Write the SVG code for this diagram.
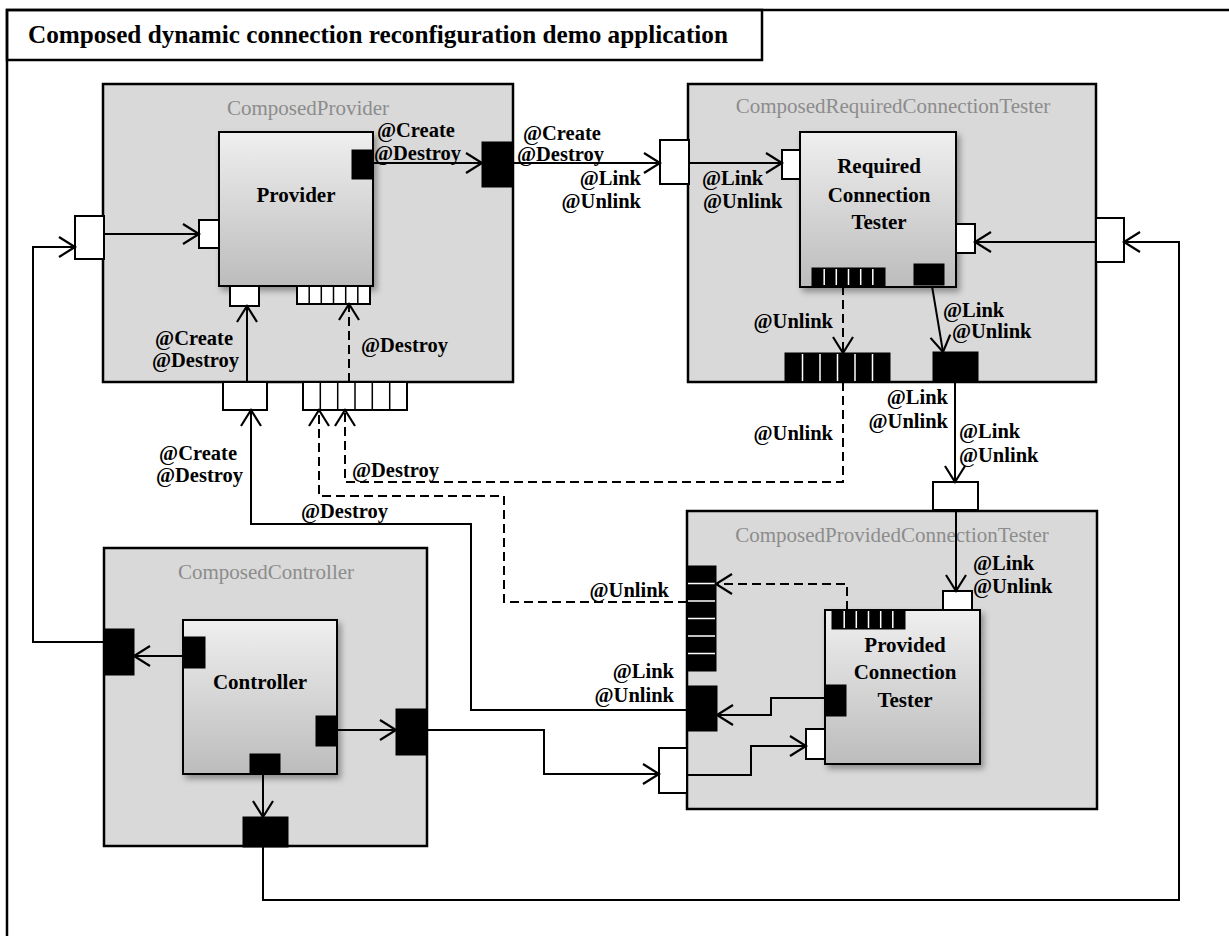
<svg xmlns="http://www.w3.org/2000/svg" width="1229" height="936" viewBox="0 0 1229 936">
  <defs>
    <linearGradient id="innerFill" x1="0" y1="0" x2="0" y2="1">
      <stop offset="0" stop-color="#efefef"/>
      <stop offset="1" stop-color="#bcbcbc"/>
    </linearGradient>
    <filter id="shadow" x="-10%" y="-10%" width="130%" height="130%">
      <feDropShadow dx="3" dy="4" stdDeviation="3" flood-color="#000" flood-opacity="0.35"/>
    </filter>
    <marker id="arr" markerUnits="userSpaceOnUse" markerWidth="22" markerHeight="26" viewBox="0 0 22 26" refX="18" refY="12" orient="auto">
      <path d="M2,2 L18,12 L2,22" fill="none" stroke="#000" stroke-width="2.2"/>
    </marker>
    <style>
      .frame { fill: none; stroke: #000; stroke-width: 2.5; }
      .comp { fill: #d9d9d9; stroke: #000; stroke-width: 2.5; }
      .inner { fill: url(#innerFill); stroke: #000; stroke-width: 2; filter: url(#shadow); }
      .pw { fill: #fff; stroke: #000; stroke-width: 2; }
      .pb { fill: #000; stroke: #000; stroke-width: 1; }
      .cellw { stroke: #000; stroke-width: 1.5; }
      .cellb { stroke: #fff; stroke-width: 1.5; }
      .ctitle { font-family: "Liberation Serif", "Times New Roman", serif; font-size: 21px; fill: #8c8c8c; text-anchor: middle; }
      .ntitle { font-family: "Liberation Serif", "Times New Roman", serif; font-size: 21px; font-weight: bold; fill: #000; text-anchor: middle; }
      .lbl { font-family: "Liberation Serif", "Times New Roman", serif; font-size: 20.5px; font-weight: bold; fill: #000; }
      .r { text-anchor: end; }
      .title { font-family: "Liberation Serif", "Times New Roman", serif; font-size: 25.2px; font-weight: bold; fill: #000; }
      .conn { fill: none; stroke: #000; stroke-width: 2; marker-end: url(#arr); }
      .dash { stroke-dasharray: 9 5; }
    </style>
  </defs>

  <rect width="1229" height="936" fill="#fff"/>

  <!-- outer application frame and title tab -->
  <g id="application">
    <rect class="frame" x="7" y="10" width="1260" height="960"/>
    <rect class="frame" x="7" y="10" width="755" height="50"/>
    <text class="title" x="28" y="43">Composed dynamic connection reconfiguration demo application</text>
  </g>

  <!-- ComposedProvider -->
  <g id="composed-provider">
    <rect class="comp" x="103" y="84" width="410" height="298"/>
    <text class="ctitle" x="308" y="115">ComposedProvider</text>
    <rect class="pw" x="75" y="216" width="29" height="43"/>
    <rect class="pb" x="482" y="142" width="31" height="45"/>
    <rect class="pw" x="223" y="382" width="44" height="28"/>
    <rect class="pw" x="303" y="382" width="104" height="28"/>
    <path class="cellw" d="M320.3,382V410M337.7,382V410M355,382V410M372.3,382V410M389.7,382V410"/>
  </g>
  <g id="provider">
    <rect class="inner" x="219" y="132" width="154" height="154"/>
    <text class="ntitle" x="296" y="202">Provider</text>
    <rect class="pb" x="352" y="150" width="21" height="29"/>
    <rect class="pw" x="199" y="220" width="20" height="28"/>
    <rect class="pw" x="230" y="286" width="29" height="20"/>
    <rect class="pw" x="297" y="286" width="73" height="18"/>
    <path class="cellw" d="M309.2,286V304M321.3,286V304M333.5,286V304M345.7,286V304M357.8,286V304"/>
  </g>

  <!-- ComposedRequiredConnectionTester -->
  <g id="composed-required-tester">
    <rect class="comp" x="688" y="84" width="408" height="298"/>
    <text class="ctitle" x="893" y="113">ComposedRequiredConnectionTester</text>
    <rect class="pw" x="660" y="140" width="29" height="44"/>
    <rect class="pw" x="1096" y="218" width="28" height="44"/>
    <rect class="pb" x="785" y="353" width="105" height="29"/>
    <path class="cellb" d="M802.5,354V381M820,354V381M837.5,354V381M855,354V381M872.5,354V381"/>
    <rect class="pb" x="933" y="352" width="45" height="30"/>
  </g>
  <g id="required-tester">
    <rect class="inner" x="800" y="132" width="156" height="155"/>
    <text class="ntitle" x="879" y="173">Required</text>
    <text class="ntitle" x="879" y="202">Connection</text>
    <text class="ntitle" x="879" y="229">Tester</text>
    <rect class="pw" x="782" y="150" width="18" height="29"/>
    <rect class="pw" x="956" y="224" width="19" height="29"/>
    <rect class="pb" x="812" y="268" width="73" height="18"/>
    <path class="cellb" d="M824.2,269V285M836.3,269V285M848.5,269V285M860.7,269V285M872.8,269V285"/>
    <rect class="pb" x="914" y="264" width="30" height="21"/>
  </g>

  <!-- ComposedProvidedConnectionTester -->
  <g id="composed-provided-tester">
    <rect class="comp" x="687" y="511" width="410" height="298"/>
    <text class="ctitle" x="892" y="542">ComposedProvidedConnectionTester</text>
    <rect class="pw" x="933" y="482" width="45" height="28"/>
    <rect class="pb" x="687" y="566" width="29" height="105"/>
    <path class="cellb" d="M688,583.5H715M688,601H715M688,618.5H715M688,636H715M688,653.5H715"/>
    <rect class="pb" x="687" y="686" width="30" height="45"/>
    <rect class="pw" x="659" y="748" width="28" height="45"/>
  </g>
  <g id="provided-tester">
    <rect class="inner" x="825" y="610" width="155" height="154"/>
    <text class="ntitle" x="905" y="652">Provided</text>
    <text class="ntitle" x="905" y="679">Connection</text>
    <text class="ntitle" x="905" y="707">Tester</text>
    <rect class="pb" x="832" y="610" width="73" height="19"/>
    <path class="cellb" d="M844.2,611V628M856.3,611V628M868.5,611V628M880.7,611V628M892.8,611V628"/>
    <rect class="pw" x="943" y="591" width="29" height="19"/>
    <rect class="pb" x="825" y="685" width="21" height="31"/>
    <rect class="pw" x="806" y="729" width="19" height="30"/>
  </g>

  <!-- ComposedController -->
  <g id="composed-controller">
    <rect class="comp" x="104" y="548" width="323" height="298"/>
    <text class="ctitle" x="266" y="579">ComposedController</text>
    <rect class="pb" x="105" y="629" width="29" height="46"/>
    <rect class="pb" x="396" y="709" width="31" height="46"/>
    <rect class="pb" x="243" y="817" width="45" height="30"/>
  </g>
  <g id="controller">
    <rect class="inner" x="183" y="620" width="154" height="154"/>
    <text class="ntitle" x="260" y="689">Controller</text>
    <rect class="pb" x="183" y="637" width="22" height="31"/>
    <rect class="pb" x="316" y="716" width="21" height="30"/>
    <rect class="pb" x="250" y="754" width="30" height="20"/>
  </g>

  <!-- connectors -->
  <g id="connectors">
    <path class="conn" d="M105,642H33V247H75"/>
    <path class="conn" d="M104,234H199"/>
    <path class="conn" d="M373,163H482"/>
    <path class="conn" d="M513,163H660"/>
    <path class="conn" d="M689,163H782"/>
    <path class="conn" d="M1096,242H975"/>
    <path class="conn" d="M263,847V900H1179V242H1124"/>
    <path class="conn" d="M263,774V817"/>
    <path class="conn" d="M183,656H134"/>
    <path class="conn" d="M337,730H396"/>
    <path class="conn" d="M427,730H544V774H659"/>
    <path class="conn" d="M687,775H751V746H806"/>
    <path class="conn" d="M825,698H771V715H717"/>
    <path class="conn" d="M932,286L943,352"/>
    <path class="conn" d="M955,382V482"/>
    <path class="conn" d="M956,510V591"/>
    <path class="conn" d="M247,382V306"/>
    <path class="conn" d="M687,710H471V524H251V410"/>
    <path class="conn dash" d="M349,382V304"/>
    <path class="conn dash" d="M843,286V353"/>
    <path class="conn dash" d="M847,610V584H716"/>
    <path class="conn dash" d="M843,382V482H345V410"/>
    <path class="conn dash" d="M687,602H504V496H319V410"/>
  </g>

  <!-- connector labels -->
  <g id="labels">
    <text class="lbl" x="377" y="137">@Create</text>
    <text class="lbl" x="374" y="160">@Destroy</text>
    <text class="lbl" x="523" y="140">@Create</text>
    <text class="lbl" x="517" y="161">@Destroy</text>
    <text class="lbl r" x="641" y="185">@Link</text>
    <text class="lbl r" x="641" y="208">@Unlink</text>
    <text class="lbl" x="702" y="185">@Link</text>
    <text class="lbl" x="703" y="208">@Unlink</text>
    <text class="lbl r" x="833" y="328">@Unlink</text>
    <text class="lbl" x="943" y="317">@Link</text>
    <text class="lbl" x="952" y="338">@Unlink</text>
    <text class="lbl r" x="233" y="345">@Create</text>
    <text class="lbl r" x="239" y="367">@Destroy</text>
    <text class="lbl" x="361" y="352">@Destroy</text>
    <text class="lbl r" x="237" y="460">@Create</text>
    <text class="lbl r" x="243" y="482">@Destroy</text>
    <text class="lbl" x="352" y="477">@Destroy</text>
    <text class="lbl" x="301" y="518">@Destroy</text>
    <text class="lbl r" x="833" y="440">@Unlink</text>
    <text class="lbl r" x="948" y="404">@Link</text>
    <text class="lbl r" x="948" y="428">@Unlink</text>
    <text class="lbl" x="959" y="438">@Link</text>
    <text class="lbl" x="959" y="462">@Unlink</text>
    <text class="lbl" x="973" y="570">@Link</text>
    <text class="lbl" x="973" y="593">@Unlink</text>
    <text class="lbl r" x="669" y="597">@Unlink</text>
    <text class="lbl r" x="674" y="678">@Link</text>
    <text class="lbl r" x="674" y="702">@Unlink</text>
  </g>
</svg>
